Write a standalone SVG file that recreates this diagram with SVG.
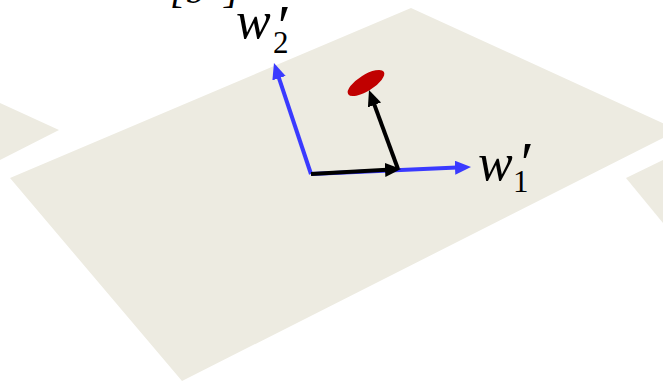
<svg xmlns="http://www.w3.org/2000/svg" width="663" height="383" viewBox="0 0 663 383">
<defs>
<style>
.plane{fill:#EDEBE1}
.blue{stroke:#3A3AFF;stroke-width:4;fill:none}
.black{stroke:#000;stroke-width:4;fill:none}
.m{font-family:"Liberation Serif","DejaVu Serif",serif;fill:#000}
.it{font-style:italic}
.w{font-style:italic;font-size:52px}
.sub{font-size:31px}
.pr{font-size:60px;font-style:italic}
</style>
<marker id="hb" markerUnits="userSpaceOnUse" markerWidth="18" markerHeight="16" refX="2" refY="7" orient="auto"><path d="M0,0 L16,7 L0,14 z" fill="#3A3AFF"/></marker>
<marker id="hk" markerUnits="userSpaceOnUse" markerWidth="18" markerHeight="16" refX="2" refY="7" orient="auto"><path d="M0,0 L16,7 L0,14 z" fill="#000"/></marker>
</defs>
<rect width="663" height="383" fill="#fff"/>
<g id="plane-left"><polygon class="plane" points="0,103 59,130 0,160"/></g>
<g id="plane-main"><polygon class="plane" points="411,8 680,131 663,138 182,381 10,178"/></g>
<g id="plane-right"><polygon class="plane" points="626,178 663,160 663,223"/></g>
<g id="top-label"><text class="m it" x="170" y="3" font-size="40">[b′ ]</text></g>
<g id="point"><ellipse cx="366" cy="83" rx="21" ry="8" fill="#C00000" transform="rotate(-32 366 83)"/></g>
<g id="connectors">
<line class="blue" x1="311" y1="174" x2="457" y2="167.6" marker-end="url(#hb)"/>
<line class="blue" x1="311" y1="174" x2="278.4" y2="76.3" marker-end="url(#hb)"/>
<line class="black" x1="311" y1="174" x2="387" y2="169.8" marker-end="url(#hk)"/>
<line class="black" x1="398" y1="169" x2="373.8" y2="103.1" marker-end="url(#hk)"/>
</g>
<g id="label-w2">
<text class="m w" x="236" y="38">w</text>
<text class="m pr" x="274" y="46">′</text>
<text class="m sub" x="273" y="53">2</text>
</g>
<g id="label-w1">
<text class="m w" x="478" y="180">w</text>
<text class="m pr" x="517" y="183">′</text>
<text class="m sub" x="513" y="192">1</text>
</g>
</svg>
